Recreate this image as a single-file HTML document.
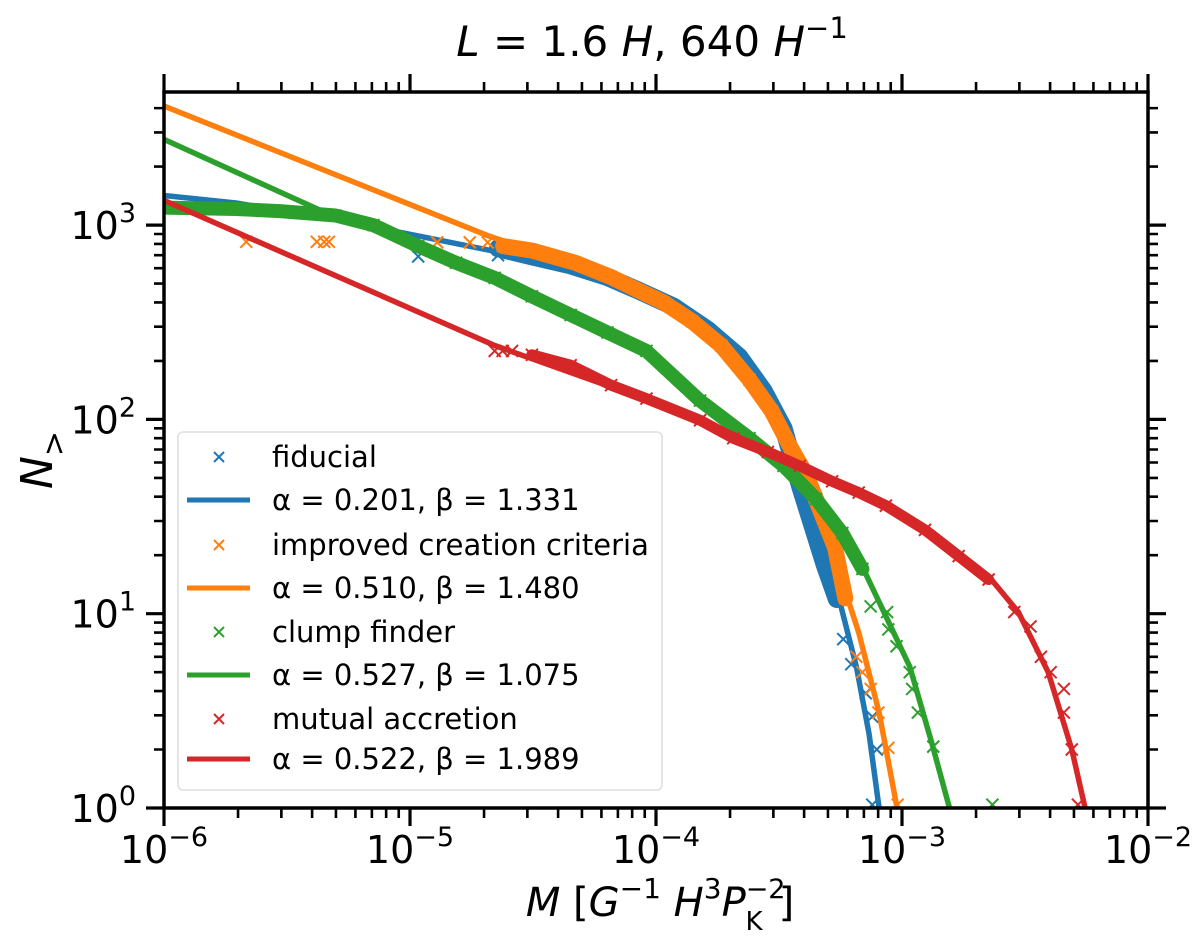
<!DOCTYPE html>
<html><head><meta charset="utf-8"><style>
body{margin:0;background:#fff;}
svg text{font-family:"DejaVu Sans","Liberation Sans",sans-serif;}
</style></head><body>
<svg id="chart" width="1200" height="947" viewBox="0 0 1200 947" xmlns="http://www.w3.org/2000/svg">
<defs><clipPath id="pc"><rect x="164" y="92" width="984" height="716"/></clipPath></defs>
<text x="652" y="56" font-size="42" text-anchor="middle"><tspan font-style="italic">L</tspan> = 1.6 <tspan font-style="italic">H</tspan>, 640 <tspan font-style="italic">H</tspan><tspan font-size="29" dy="-18">−1</tspan></text>
<g id="plot" clip-path="url(#pc)"></g>
<g id="axes"></g>
<text x="660" y="916" font-size="40" text-anchor="middle"><tspan font-style="italic">M</tspan> [<tspan font-style="italic">G</tspan><tspan font-size="28" dy="-18">−1</tspan><tspan dy="18"> </tspan><tspan font-style="italic">H</tspan><tspan font-size="28" dy="-18">3</tspan><tspan dy="18" font-style="italic">P</tspan><tspan font-size="27" dy="-18">−2</tspan><tspan font-size="26" dx="-40" dy="32">K</tspan><tspan dy="-14" dx="16">]</tspan></text>
<text transform="translate(52,460) rotate(-90)" font-size="44" text-anchor="middle"><tspan font-style="italic">N</tspan><tspan font-size="30" dy="12">&gt;</tspan></text>
<g id="legend"></g>
</svg>
<script>
// ---- data ----
const blueDataM=[1e-6,1.96e-6,4e-6,7.1e-6,1.02e-5,1.54e-5,2.28e-5,3.13e-5,4.5e-5,6.35e-5,8.5e-5,1.18e-4,1.62e-4,2.18e-4,2.74e-4,3.3e-4,3.86e-4,4.42e-4,4.87e-4,5.43e-4];
const blueDataN=[1250,1200,1120,1000,900,820,760,690,620,540,460,380,290,210,140,90,45,26,17.6,11.9];
const blueMarkM=[1.08e-5,2.28e-5,5.77e-4,6.22e-4,7.12e-4,7.57e-4,7.9e-4,7.57e-4];
const blueMarkN=[690,700,7.4,5.5,3.9,2.95,2.0,1.04];
const blueFitM=[1e-6,1.96e-6,4.6e-6,1.08e-5,2.65e-5,4.5e-5,7.75e-5,1.32e-4,2.37e-4,2.96e-4,3.6e-4,3.84e-4,4.76e-4,5.55e-4,6.53e-4,7.35e-4,8.07e-4,8.47e-4];
const blueFitN=[1420,1300,1090,880,700,610,480,330,190,110,58,48,21.5,11.9,5.3,2.4,1,0.6];

const orangeDataM=[2.39e-5,3.13e-5,4.7e-5,6.57e-5,8.5e-5,1.073e-4,1.4e-4,1.84e-4,2.4e-4,2.96e-4,3.52e-4,4.08e-4,4.47e-4,5.2e-4,5.88e-4];
const orangeDataN=[780,740,640,540,460,400,320,240,160,110,72,52,39,26,12];
const orangeMarkM=[2.16e-6,4.18e-6,4.48e-6,4.68e-6,1.29e-5,1.75e-5,2.07e-5,6.53e-4,6.9e-4,7.46e-4,8.02e-4,8.8e-4,9.6e-4];
const orangeMarkN=[820,820,820,820,815,815,815,6,5,4.1,3.1,2.04,1.04];
const orangeFitM=[1e-6,2.07e-5,3.13e-5,6.57e-5,1.073e-4,1.84e-4,2.96e-4,3.63e-4,4.19e-4,5.55e-4,6.67e-4,8.07e-4,9.55e-4,1.01e-3];
const orangeFitN=[4100,883,740,540,400,240,110,62,40,16.4,8,3.1,1,0.7];

const greenDataM=[1e-6,1.96e-6,2.96e-6,4.98e-6,7.1e-6,1.08e-5,1.54e-5,2.21e-5,3.13e-5,4.5e-5,6.35e-5,9.15e-5,1.51e-4,2.4e-4,3.3e-4,4.47e-4,5.72e-4,6.9e-4];
const greenDataN=[1230,1210,1180,1120,1000,780,640,535,430,345,280,225,125,80,57.6,39,26,17];
const greenMarkM=[7.46e-4,8.7e-4,8.8e-4,9.5e-4,1.075e-3,1.1e-3,1.16e-3,1.34e-3,2.33e-3];
const greenMarkN=[10.9,10.2,8.3,6.8,5,4.1,3.1,2.07,1.04];
const greenFitM=[1e-6,4.88e-6,1.08e-5,2.21e-5,4.5e-5,9.15e-5,1.51e-4,2.4e-4,3.84e-4,5.2e-4,6.67e-4,8.6e-4,1.075e-3,1.32e-3,1.56e-3,1.64e-3];
const greenFitN=[2760,1110,790,540,345,225,130,82,51,30.6,19.1,9.7,5.35,2.17,1,0.7];

const redDataM=[3.13e-5,4.5e-5,6.57e-5,9.15e-5,1.51e-4,2.06e-4,2.85e-4,3.84e-4,5.2e-4,6.67e-4,8.6e-4,1.24e-3,1.7e-3,2.25e-3];
const redDataN=[215,190,150,128,99,80,68,57.6,48,42,36,27,19.8,15];
const redMarkM=[2.21e-5,2.38e-5,2.6e-5,2.86e-3,3.33e-3,3.67e-3,4.02e-3,4.55e-3,4.55e-3,4.9e-3,5.19e-3];
const redMarkN=[225,225,225,10.2,8.6,6.0,5,4.1,3.1,2,1.04];
const redFitM=[1e-6,2.21e-5,1.51e-4,3.84e-4,7.1e-4,1.33e-3,2.25e-3,2.97e-3,3.93e-3,4.9e-3,5.55e-3,5.78e-3];
const redFitN=[1340,240,101,57.6,40.4,26.3,15.6,10.2,5,2,1,0.8];

const xTickVals=[1e-6,1e-5,1e-4,1e-3,1e-2];
const xTickExp=["−6","−5","−4","−3","−2"];
const yTickVals=[1,10,100,1000];
const yTickExp=["0","1","2","3"];
const legendLabels=["fiducial","α = 0.201, β = 1.331","improved creation criteria","α = 0.510, β = 1.480","clump finder","α = 0.527, β = 1.075","mutual accretion","α = 0.522, β = 1.989"];

// ---- axes ----
const X0=164,X1=1148,Y0=808,Y1=92;
const X=m=>X0+246*(Math.log10(m)+6);
const Y=n=>Y0-194.3*Math.log10(n);
const NS="http://www.w3.org/2000/svg";
function mk(tag,attrs,parent){const e=document.createElementNS(NS,tag);for(const k in attrs)e.setAttribute(k,attrs[k]);parent.appendChild(e);return e;}
const plot=document.getElementById('plot'),axes=document.getElementById('axes'),leg=document.getElementById('legend');

function pts(M,N,minM){const out=[];M.forEach((m,i)=>{if(m>=minM)out.push(X(m).toFixed(1)+','+Y(N[i]).toFixed(1));});return out.join(' ');}
function marker(x,y,c,p,name,s){
  s=s||6;
  const g=mk('path',{d:`M${x-s},${y-s}L${x+s},${y+s}M${x-s},${y+s}L${x+s},${y-s}`,stroke:c,'stroke-width':2,fill:'none'},p);
  
  
}
const series=[
 ['fiducial','#1f77b4',blueDataM,blueDataN,blueMarkM,blueMarkN,blueFitM,blueFitN,18,2e-5],
 ['improved','#ff7f0e',orangeDataM,orangeDataN,orangeMarkM,orangeMarkN,orangeFitM,orangeFitN,16,0],
 ['clump','#2ca02c',greenDataM,greenDataN,greenMarkM,greenMarkN,greenFitM,greenFitN,14,0],
 ['mutual','#d62728',redDataM,redDataN,redMarkM,redMarkN,redFitM,redFitN,11,0]
];
series.forEach(s=>{
  const [nm,c,dM,dN,mM,mN,fM,fN,w,minM]=s;
  const band=mk('polyline',{points:pts(dM,dN,minM),fill:'none',stroke:c,'stroke-width':w,'stroke-linejoin':'round','stroke-linecap':'round'},plot);
  
  
  dM.forEach((m,i)=>{if(m>=minM)marker(X(m),Y(dN[i]),c,plot,nm+'-data-point');});
  mM.forEach((m,i)=>marker(X(m),Y(mN[i]),c,plot,nm+'-data-point'));
  const fit=mk('polyline',{points:pts(fM,fN,0),fill:'none',stroke:c,'stroke-width':5.5,'stroke-linejoin':'round'},plot);
  
  
});

// frame
const fr=mk('rect',{x:X0,y:Y1,width:X1-X0,height:Y0-Y1,fill:'none',stroke:'#000','stroke-width':3.5},axes);


for(let d=-6;d<=-2;d++){
  for(let k=1;k<=9;k++){
    if(d===-2&&k>1)break;
    const x=X(k*Math.pow(10,d));const L=k===1?18:10;
    const t=mk('path',{d:`M${x},${Y0}v${L}M${x},${Y1}v${-L}`,stroke:'#000','stroke-width':k===1?3.2:2.6},axes);
    
    
  }
}
xTickVals.forEach((v,i)=>{
  const t=mk('text',{x:X(v),y:863,'font-size':38,'text-anchor':'middle'},axes);
  t.innerHTML=`10<tspan font-size="27" dy="-17">${xTickExp[i]}</tspan>`;
  
  
});
for(let d=0;d<=3;d++){
  for(let k=1;k<=9;k++){
    const n=k*Math.pow(10,d);const y=Y(n);if(y<Y1-1)break;
    const L=k===1?18:10;
    const t=mk('path',{d:`M${X0},${y}h${-L}M${X1},${y}h${L}`,stroke:'#000','stroke-width':k===1?3.2:2.6},axes);
    
    
  }
}
yTickVals.forEach((v,i)=>{
  const t=mk('text',{x:136,y:Y(v)+14,'font-size':38,'text-anchor':'end'},axes);
  t.innerHTML=`10<tspan font-size="27" dy="-17">${yTickExp[i]}</tspan>`;
  
  
});

// legend
const lb=mk('rect',{x:178,y:432,width:484,height:358,rx:5,fill:'#fff','fill-opacity':0.85,stroke:'#ddd','stroke-width':1.5},leg);


const legY=[457,500,545,588,632,675,719,759];
const cols=['#1f77b4','#1f77b4','#ff7f0e','#ff7f0e','#2ca02c','#2ca02c','#d62728','#d62728'];
legendLabels.forEach((lab,i)=>{
  const y=legY[i];
  if(i%2===0){marker(219,y,cols[i],leg,'legend-marker',5);}
  else{const l=mk('line',{x1:187,x2:250,y1:y,y2:y,stroke:cols[i],'stroke-width':5},leg);
    
    }
  const t=mk('text',{x:272,y:y+10,'font-size':29},leg);
  t.textContent=lab;
  
  
});
</script>
</body></html>
